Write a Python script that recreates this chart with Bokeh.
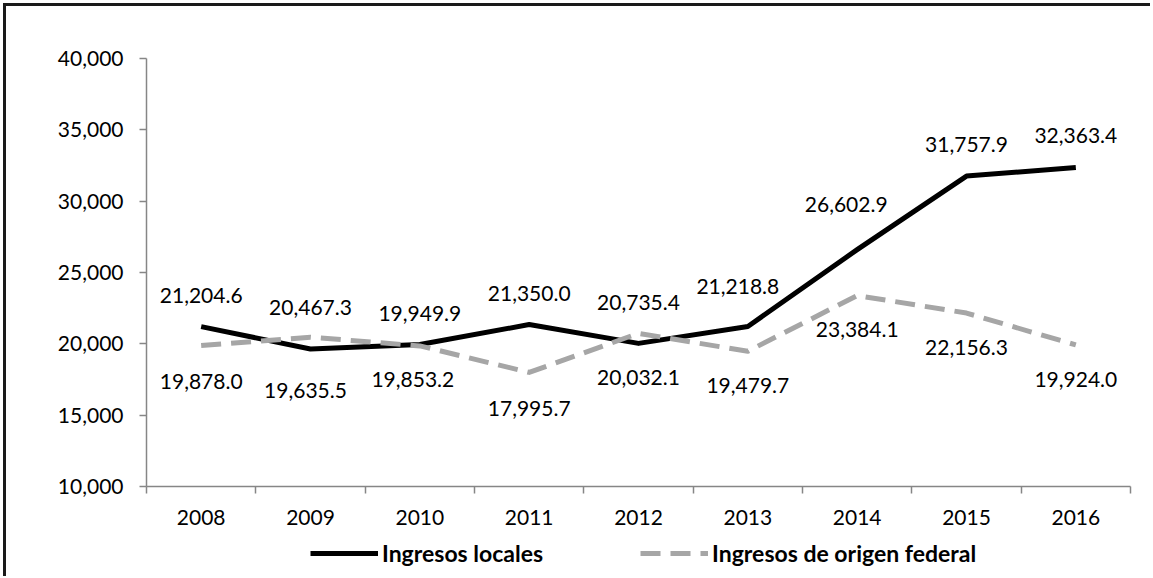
from bokeh.plotting import figure
from bokeh.layouts import column
from bokeh.models import (ColumnDataSource, Range1d, FixedTicker, NumeralTickFormatter,
                          BasicTickFormatter, Legend, LegendItem)
from bokeh.core.properties import value
from bokeh.embed import file_html
from bokeh.resources import INLINE

# ---------------- data ----------------
years = [2008, 2009, 2010, 2011, 2012, 2013, 2014, 2015, 2016]
ingresos_locales = [21204.6, 19635.5, 19949.9, 21350.0, 20032.1, 21218.8, 26602.9, 31757.9, 32363.4]
ingresos_federales = [19878.0, 20467.3, 19853.2, 17995.7, 20735.4, 19479.7, 23384.1, 22156.3, 19924.0]
y_ticks = [10000, 15000, 20000, 25000, 30000, 35000, 40000]
serie_locales = "Ingresos locales"
serie_federales = "Ingresos de origen federal"

# ---------------- layout / style ----------------
FONT = "Lato"
FS = "21px"
AXIS_GRAY = "#868686"
GRAY_LINE = "#a6a6a6"
W = 1144
H_MAIN, H_LEG = 526, 44

# label placement (screen px) for upper and lower data labels
upper_dx = [0, 0, 0, 0, 0, -10, -11, 0, 0]
upper_dy = [-31, -30, -31, -31, -31, -40, -45, -32, -32]
lower_dx = [0, -5, -7, 0, 0, 0, 0, 0, 0]
lower_dy = [36, 41, 34, 36, 34, 34, 34, 34, 35]

p = figure(width=W, height=H_MAIN, output_backend="svg", toolbar_location=None,
           x_range=Range1d(years[0] - 0.5, years[-1] + 0.5),
           y_range=Range1d(y_ticks[0], y_ticks[-1]),
           min_border_left=140, min_border_right=20,
           min_border_top=52, min_border_bottom=46)
p.outline_line_color = None
p.xgrid.visible = False
p.ygrid.visible = False
p.background_fill_color = "white"
p.border_fill_color = "white"

# x axis: labels at category centres, ticks at category boundaries
xa = p.xaxis[0]
xa.ticker = FixedTicker(ticks=years,
                        minor_ticks=[y - 0.5 for y in years] + [years[-1] + 0.5])
xa.formatter = BasicTickFormatter(use_scientific=False)
xa.major_tick_line_color = None
xa.major_tick_out = 0
xa.major_tick_in = 0
xa.minor_tick_out = 7
xa.minor_tick_in = 0
xa.minor_tick_line_color = AXIS_GRAY
xa.minor_tick_line_width = 1.5
xa.axis_line_color = AXIS_GRAY
xa.axis_line_width = 1.5
xa.major_label_text_font = FONT
xa.major_label_text_font_size = FS
xa.major_label_text_color = "black"
xa.major_label_standoff = 16

ya = p.yaxis[0]
ya.ticker = FixedTicker(ticks=y_ticks)
ya.formatter = NumeralTickFormatter(format="0,0")
ya.major_tick_out = 7
ya.major_tick_in = 0
ya.major_tick_line_color = AXIS_GRAY
ya.major_tick_line_width = 1.5
ya.minor_tick_line_color = None
ya.axis_line_color = AXIS_GRAY
ya.axis_line_width = 1.5
ya.major_label_text_font = FONT
ya.major_label_text_font_size = FS
ya.major_label_text_color = "black"
ya.major_label_standoff = 16

# ---------------- series ----------------
src = ColumnDataSource(dict(x=years, loc=ingresos_locales, fed=ingresos_federales))
loc_style = dict(line_color="black", line_width=5, line_join="round")
fed_style = dict(line_color=GRAY_LINE, line_width=5, line_dash="20 10", line_join="round")
p.line("x", "loc", source=src, **loc_style)
p.line("x", "fed", source=src, **fed_style)

# ---------------- data labels ----------------
upper = [max(a, b) for a, b in zip(ingresos_locales, ingresos_federales)]
lower = [min(a, b) for a, b in zip(ingresos_locales, ingresos_federales)]
vals = upper + lower
lab = ColumnDataSource(dict(
    x=years + years,
    y=vals,
    text=[f"{v:,.1f}" for v in vals],
    dx=upper_dx + lower_dx,
    dy=upper_dy + lower_dy,
))
p.text("x", "y", text="text", source=lab, x_offset="dx", y_offset="dy",
       text_align="center", text_baseline="middle",
       text_font=value(FONT), text_font_size=FS, text_color="black")

# ---------------- legend strip (own small figure below the chart) ----------------
# the strip's ranges keep its proxy lines out of view; only the legend shows
leg = figure(width=W, height=H_LEG, output_backend="svg", toolbar_location=None,
             x_range=Range1d(0, 1), y_range=Range1d(0, 1),
             x_axis_type=None, y_axis_type=None,
             min_border_left=0, min_border_right=0, min_border_top=0, min_border_bottom=0)
leg.outline_line_color = None
leg.xgrid.visible = False
leg.ygrid.visible = False
leg.background_fill_color = "white"
leg.border_fill_color = "white"
k_loc = leg.line("x", "loc", source=src, **loc_style)
k_fed = leg.line("x", "fed", source=src, **fed_style)
legend = Legend(items=[LegendItem(label=serie_locales, renderers=[k_loc]),
                       LegendItem(label=serie_federales, renderers=[k_fed])],
                orientation="horizontal", location=(164, 9),
                glyph_width=68, glyph_height=28, label_standoff=4, spacing=97,
                padding=0, margin=0,
                border_line_color=None, background_fill_alpha=0,
                label_text_font=FONT, label_text_font_size="23px",
                label_text_font_style="bold", label_text_color="black")
leg.add_layout(legend, "center")

layout = column(p, leg, spacing=0)
# outer chart-area frame (left and top edges are visible in the reference)
layout.styles = {"border-left": "3px solid #1a1a1a", "border-top": "3px solid #1a1a1a",
                 "margin-left": "3px", "margin-top": "3px"}

open("out.html", "w").write(file_html(layout, INLINE))
